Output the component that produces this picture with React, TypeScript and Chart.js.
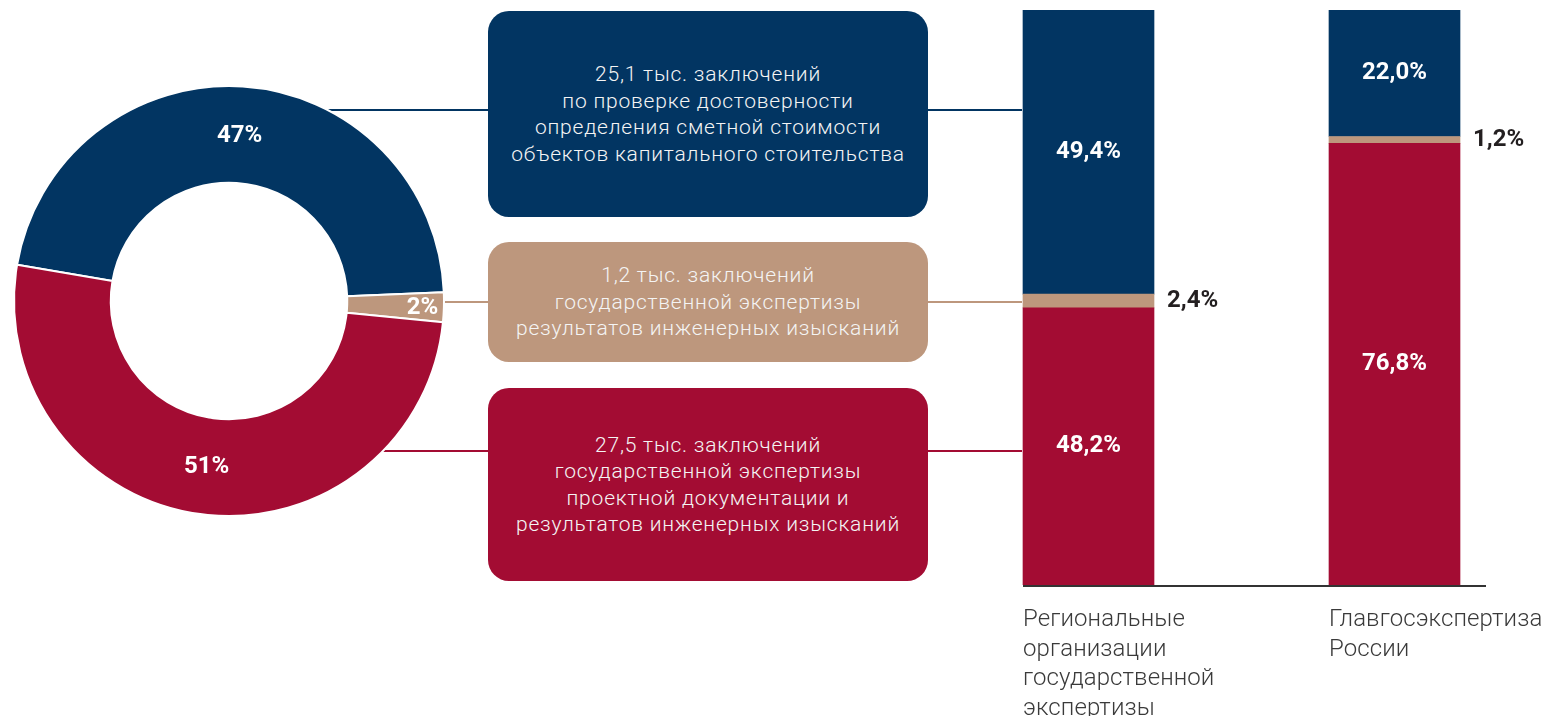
import React, { useEffect, useRef } from 'react';
import { Chart, registerables } from 'chart.js';

Chart.register(...registerables);

// ---- colours ----
const NAVY = '#023562';
const TAN = '#bd977d';
const CRIMSON = '#a30c33';

// ---- donut data (тыс. заключений) ----
const donutCategories = [
  'проверка достоверности определения сметной стоимости',
  'экспертиза результатов инженерных изысканий',
  'экспертиза проектной документации и результатов инженерных изысканий',
];
const donutValues = [25.1, 1.2, 27.5];
const seriesColors = [NAVY, TAN, CRIMSON];

// ---- box texts ----
const boxLines = [
  ['25,1 тыс. заключений', 'по проверке достоверности', 'определения сметной стоимости', 'объектов капитального стоительства'],
  ['1,2 тыс. заключений', 'государственной экспертизы', 'результатов инженерных изысканий'],
  ['27,5 тыс. заключений', 'государственной экспертизы', 'проектной документации и', 'результатов инженерных изысканий'],
];

// ---- stacked bar data (%) ----
const barCategories = [
  ['Региональные', 'организации', 'государственной', 'экспертизы'],
  ['Главгосэкспертиза', 'России'],
];
const estimateShare = [49.4, 22.0];
const surveyShare = [2.4, 1.2];
const projectShare = [48.2, 76.8];

// connector line heights (layout)
const connectorY = [110, 302, 451];

const fmtPct = (v: number) => v.toFixed(1).replace('.', ',') + '%';

const donutPlugin = {
  id: 'donutDecor',
  beforeDatasetsDraw(chart: any) {
    const meta = chart.getDatasetMeta(0);
    const arc = meta.data[0];
    if (!arc) return;
    const { x: cx, y: cy, outerRadius } = arc.getProps(['x', 'y', 'outerRadius'], true);
    const ctx = chart.ctx;
    ctx.save();
    connectorY.forEach((y, i) => {
      const dy = y - cy;
      const dx = Math.sqrt(Math.max(0, outerRadius * outerRadius - dy * dy));
      ctx.strokeStyle = seriesColors[i];
      ctx.lineWidth = 2;
      ctx.beginPath();
      ctx.moveTo(cx + dx - 3, y);
      ctx.lineTo(chart.width, y);
      ctx.stroke();
    });
    ctx.restore();
  },
  afterDatasetsDraw(chart: any) {
    const meta = chart.getDatasetMeta(0);
    const data = chart.data.datasets[0].data as number[];
    const total = data.reduce((a, b) => a + b, 0);
    const ctx = chart.ctx;
    ctx.save();
    ctx.fillStyle = '#ffffff';
    ctx.font = 'bold 24px Roboto';
    ctx.textAlign = 'center';
    ctx.textBaseline = 'middle';
    meta.data.forEach((arc: any, i: number) => {
      const p = arc.getProps(['x', 'y', 'startAngle', 'endAngle', 'innerRadius', 'outerRadius'], true);
      const share = data[i] / total;
      const mid = (p.startAngle + p.endAngle) / 2;
      const r = share < 0.05 ? p.outerRadius * 0.9 : (p.innerRadius + p.outerRadius) / 2;
      ctx.fillText(Math.round(share * 100) + '%', p.x + Math.cos(mid) * r, p.y + Math.sin(mid) * r + 1);
    });
    ctx.restore();
  },
};

const barPlugin = {
  id: 'barDecor',
  afterDatasetsDraw(chart: any) {
    const ctx = chart.ctx;
    const area = chart.chartArea;
    ctx.save();
    // data labels
    chart.data.datasets.forEach((ds: any, di: number) => {
      const meta = chart.getDatasetMeta(di);
      meta.data.forEach((bar: any, j: number) => {
        const p = bar.getProps(['x', 'y', 'base', 'width'], true);
        const v = ds.data[j] as number;
        const cy = (p.y + p.base) / 2;
        ctx.font = 'bold 24px Roboto';
        ctx.textBaseline = 'middle';
        if (ds.outside) {
          ctx.fillStyle = '#231f20';
          ctx.textAlign = 'left';
          ctx.fillText(fmtPct(v), p.x + p.width / 2 + 13, cy);
        } else {
          ctx.fillStyle = '#ffffff';
          ctx.textAlign = 'center';
          ctx.fillText(fmtPct(v), p.x, cy);
        }
      });
    });
    // axis line
    const m0 = chart.getDatasetMeta(0);
    const first = m0.data[0].getProps(['x', 'width'], true);
    const last = m0.data[m0.data.length - 1].getProps(['x', 'width'], true);
    ctx.strokeStyle = '#333333';
    ctx.lineWidth = 2;
    ctx.beginPath();
    ctx.moveTo(first.x - first.width / 2, area.bottom + 1);
    ctx.lineTo(last.x + last.width / 2 + 26, area.bottom + 1);
    ctx.stroke();
    // category labels
    ctx.fillStyle = '#3a3a3a';
    ctx.font = '300 24px Roboto';
    ctx.textAlign = 'left';
    ctx.textBaseline = 'alphabetic';
    try { (ctx as any).letterSpacing = '0.1px'; } catch (e) {}
    (chart.data.labels as string[][]).forEach((lines, j) => {
      const b = m0.data[j].getProps(['x', 'width'], true);
      lines.forEach((ln, k) => {
        ctx.fillText(ln, b.x - b.width / 2, area.bottom + 41 + k * 29.5);
      });
    });
    ctx.restore();
  },
};

function Donut() {
  const ref = useRef<HTMLCanvasElement>(null);
  useEffect(() => {
    const chart = new Chart(ref.current!, {
      type: 'doughnut',
      data: {
        labels: donutCategories,
        datasets: [
          {
            data: donutValues,
            backgroundColor: seriesColors,
            borderColor: '#ffffff',
            borderWidth: 2,
          },
        ],
      },
      options: {
        responsive: false,
        animation: false,
        devicePixelRatio: 1,
        rotation: -80.3,
        cutout: '55%',
        layout: { padding: { left: 13, top: 85, right: 577, bottom: 199 } },
        plugins: { legend: { display: false }, tooltip: { enabled: false } },
      },
      plugins: [donutPlugin],
    } as any);
    return () => chart.destroy();
  }, []);
  return (
    <canvas
      ref={ref}
      width={1022}
      height={716}
      style={{ position: 'absolute', left: 0, top: 0, width: 1022, height: 716, zIndex: 1 }}
    />
  );
}

function Bars() {
  const ref = useRef<HTMLCanvasElement>(null);
  useEffect(() => {
    const chart = new Chart(ref.current!, {
      type: 'bar',
      data: {
        labels: barCategories,
        datasets: [
          { label: 'project', data: projectShare, backgroundColor: CRIMSON, barThickness: 131, borderWidth: 0 },
          { label: 'survey', data: surveyShare, backgroundColor: TAN, barThickness: 131, borderWidth: 0, outside: true },
          { label: 'estimate', data: estimateShare, backgroundColor: NAVY, barThickness: 131, borderWidth: 0 },
        ],
      },
      options: {
        responsive: false,
        animation: false,
        devicePixelRatio: 1,
        layout: { padding: { left: 55.5, right: 32.5, top: 10, bottom: 131 } },
        scales: {
          x: { stacked: true, display: false, grid: { display: false } },
          y: { stacked: true, display: false, min: 0, max: 100, grid: { display: false } },
        },
        plugins: { legend: { display: false }, tooltip: { enabled: false } },
      },
      plugins: [barPlugin],
    } as any);
    return () => chart.destroy();
  }, []);
  return (
    <canvas
      ref={ref}
      width={700}
      height={716}
      style={{ position: 'absolute', left: 880, top: 0, width: 700, height: 716, zIndex: 3 }}
    />
  );
}

const boxColors = [NAVY, TAN, CRIMSON];
const boxTops = [11, 242, 388];
const boxHeights = [206, 120, 193];

export default function App() {
  useEffect(() => {
    document.body.style.margin = '0';
  }, []);
  return (
    <div
      style={{
        position: 'fixed',
        left: 0,
        top: 0,
        width: 1545,
        height: 716,
        overflow: 'hidden',
        background: '#ffffff',
        fontFamily: 'Roboto, sans-serif',
      }}
    >
      <Donut />
      {boxLines.map((lines, i) => (
        <div
          key={i}
          style={{
            position: 'absolute',
            left: 488,
            top: boxTops[i],
            width: 440,
            height: boxHeights[i],
            borderRadius: 21,
            background: boxColors[i],
            color: '#f4f4f4',
            display: 'flex',
            flexDirection: 'column',
            alignItems: 'center',
            justifyContent: 'center',
            textAlign: 'center',
            fontSize: 21,
            fontWeight: 300,
            letterSpacing: '0.8px',
            lineHeight: '26.5px',
            zIndex: 2,
          }}
        >
          {lines.map((ln, k) => (
            <div key={k}>{ln}</div>
          ))}
        </div>
      ))}
      <Bars />
    </div>
  );
}
